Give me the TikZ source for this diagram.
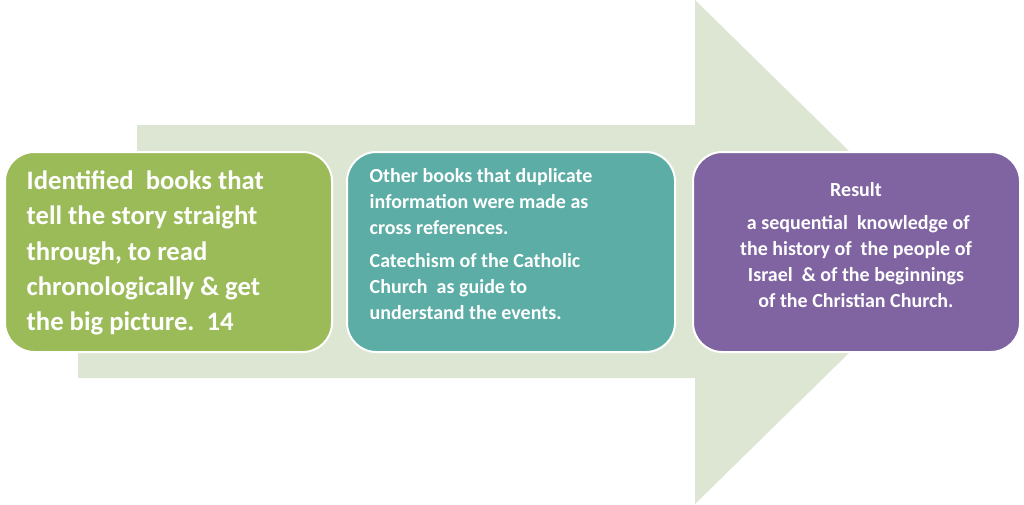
\documentclass[tikz,border=0pt]{standalone}
\usepackage{fontspec}
\setmainfont{Carlito}
\definecolor{arrowfill}{HTML}{DDE6D2}
\definecolor{stepgreen}{HTML}{9BBB59}
\definecolor{stepteal}{HTML}{5CADA6}
\definecolor{steppurple}{HTML}{8064A2}
\tikzset{
  stepbox/.style={draw=white,line width=1.5pt,rounded corners=22pt,text=white,
    font=\bfseries,inner sep=0pt}
}
\begin{document}
\begin{tikzpicture}[x=0.75pt,y=-0.75pt]
  \useasboundingbox (0,0) rectangle (1024,504);

  % Big arrow behind the steps
  \fill[arrowfill] (78,378) -- (78,160) -- (137,160) -- (137,125) -- (695,125)
    -- (695,0) -- (952,252) -- (695,504) -- (695,378) -- cycle;

  % Step boxes
  \draw[stepbox,fill=stepgreen] (5,152) rectangle (332,352);
  \draw[stepbox,fill=stepteal] (347,152) rectangle (675,352);
  \draw[stepbox,fill=steppurple] (693,152) rectangle (1020,352);

  % Step texts
  \node[anchor=north west,align=left,text=white,font=\bfseries\fontsize{20}{26.5}\selectfont]
    (first) at (22,166) {Identified\ \ books that\\tell the story straight\\through, to read\\chronologically \& get\\the big picture.\ \ 14};
  \node[anchor=north west,align=left,text=white,font=\bfseries\fontsize{15}{19.5}\selectfont]
    (second) at (365,164) {Other books that duplicate\\information were made as\\cross references.\\[5pt]Catechism of the Catholic\\Church\ \ as guide to\\understand the events.};
  \node[anchor=north,align=center,text=white,font=\bfseries\fontsize{15}{19.5}\selectfont]
    (third) at (856,178) {Result\\[5pt]\ a sequential\ \ knowledge of\\the history of\ \ the people of\\Israel\ \ \& of the beginnings\\of the Christian Church.};
\end{tikzpicture}
\end{document}
